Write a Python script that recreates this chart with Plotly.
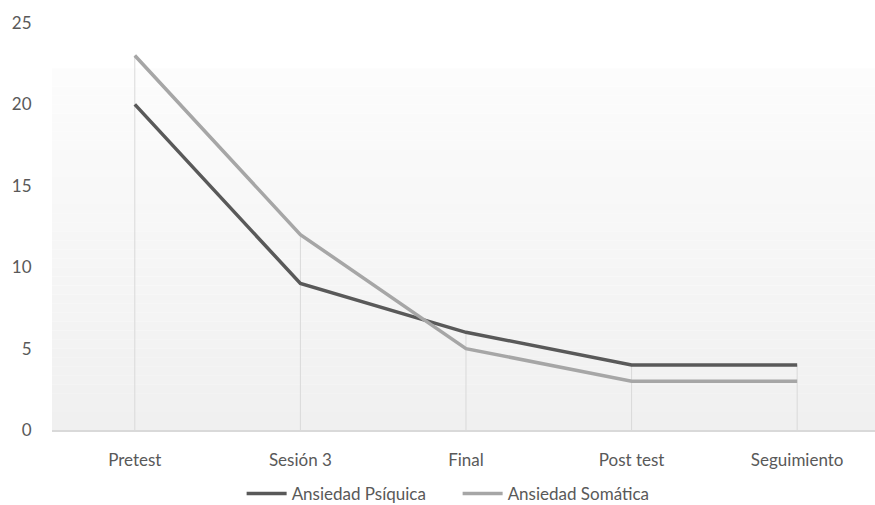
import plotly.graph_objects as go

categories = ["Pretest", "Sesión 3", "Final", "Post test", "Seguimiento"]
psiquica = [20, 9, 6, 4, 4]
somatica = [23, 12, 5, 3, 3]
y_ticks = [0, 5, 10, 15, 20, 25]

FONT = "Lato, Open Sans, sans-serif"
TXT = "#595959"

fig = go.Figure()

# drop lines
dx, dy = [], []
for c, a, b in zip(categories, psiquica, somatica):
    dx += [c, c, None]
    dy += [0, max(a, b), None]
fig.add_trace(go.Scatter(x=dx, y=dy, mode="lines", line=dict(color="#d9d9d9", width=1),
                         showlegend=False, hoverinfo="skip"))

fig.add_trace(go.Scatter(x=categories, y=psiquica, mode="lines", name="Ansiedad Psíquica",
                         line=dict(color="#595959", width=3.5)))
fig.add_trace(go.Scatter(x=categories, y=somatica, mode="lines", name="Ansiedad Somática",
                         line=dict(color="#a6a6a6", width=3.5)))

# gradient background
shapes = []
n = 40
top = 22.2
for i in range(n):
    y0 = top * i / n
    y1 = top * (i + 1) / n
    t = i / (n - 1)
    v = int(round(240 + (252 - 240) * t))
    shapes.append(dict(type="rect", xref="paper", yref="y", x0=0, x1=1, y0=y0, y1=y1,
                       fillcolor=f"rgb({v},{v},{v})", line=dict(width=0), layer="below"))

fig.update_layout(
    width=875, height=505,
    margin=dict(l=52, r=0, t=23, b=75, autoexpand=False),
    paper_bgcolor="white", plot_bgcolor="white",
    shapes=shapes,
    font=dict(family=FONT, size=17, color=TXT),
    showlegend=True,
    legend=dict(orientation="h", xref="container", x=0.523, xanchor="center",
                yref="container", y=0.022, yanchor="middle",
                font=dict(family=FONT, size=17, color=TXT), itemwidth=40,
                entrywidth=161, tracegroupgap=0),
    xaxis=dict(type="category", range=[-0.5, 4.47], showgrid=False, zeroline=False,
               showline=True, linecolor="#d9d9d9", linewidth=2,
               ticks="outside", ticklen=14, tickcolor="rgba(0,0,0,0)",
               tickfont=dict(family=FONT, size=17, color=TXT)),
    yaxis=dict(range=[0, 25], tickvals=y_ticks, showgrid=False, zeroline=False,
               showline=False, ticks="outside", ticklen=16, tickcolor="rgba(0,0,0,0)",
               tickfont=dict(family=FONT, size=17, color=TXT)),
)

fig.write_html("out.html", config={"displayModeBar": False},
               post_script="document.body.style.margin='0';document.body.style.overflow='hidden';")
